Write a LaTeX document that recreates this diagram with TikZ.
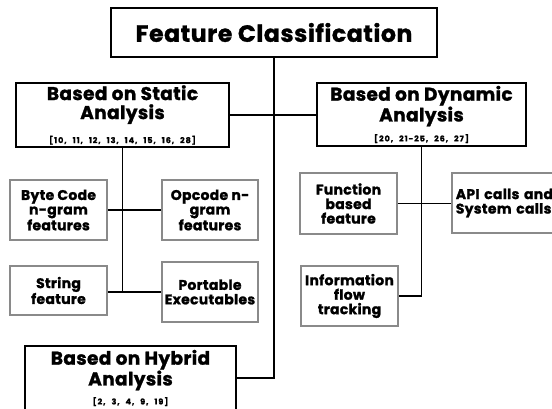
\documentclass[tikz,border=0pt]{standalone}
\usepackage{fontspec}
\setmainfont{Poppins}[BoldFeatures={FakeBold=1.3}]
\definecolor{boxgray}{HTML}{8A8A8A}
\tikzset{
  mainbox/.style={draw=black, line width=1.6pt, fill=white, align=center, inner sep=0pt, font=\bfseries},
  subbox/.style={draw=boxgray, line width=1.6pt, fill=white, align=center, inner sep=0pt,
    font=\bfseries\fontsize{14}{14.5}\selectfont\addfontfeature{LetterSpace=2}},
  conn/.style={line width=1.6pt, draw=black},
  ttl/.style={font=\bfseries\fontsize{18.5}{19}\selectfont\addfontfeature{LetterSpace=2}}
}
\newcommand{\citefont}{\fontsize{8}{9}\selectfont\addfontfeature{LetterSpace=12}\spaceskip=6pt plus 1pt\relax}
\begin{document}
\begin{tikzpicture}[x=1pt,y=-1pt]
\useasboundingbox (0,0) rectangle (552,409);
\fill[white] (0,0) rectangle (552,409);
\clip (0,0) rectangle (552,409);

\node[mainbox, minimum width=326pt, minimum height=49pt, font=\bfseries\fontsize{23.5}{24}\selectfont\addfontfeature{LetterSpace=2.5}] (top) at (274,32.5) {Feature Classification};

\node[mainbox, ttl, minimum width=213pt, minimum height=64pt] (static) at (122.5,115)
  {Based on Static\\Analysis\\[5pt]{\citefont [10, 11, 12, 13, 14, 15, 16, 28]}};
\node[mainbox, ttl, minimum width=209pt, minimum height=63pt] (dynamic) at (421.5,114.5)
  {Based on Dynamic\\Analysis\\[1pt]{\citefont [20, 21-25, 26, 27]}};
\node[mainbox, ttl, minimum width=211pt, minimum height=64pt] (hybrid) at (130.5,378)
  {Based on Hybrid\\Analysis\\[0pt]{\citefont [2, 3, 4, 9, 19]}};

\node[subbox, minimum width=97pt, minimum height=60pt] (byte) at (58.5,210) {Byte Code\\n-gram\\features};
\node[subbox, minimum width=96pt, minimum height=60pt] (opcode) at (210,210) {Opcode n-\\gram\\features};
\node[subbox, minimum width=97pt, minimum height=49pt] (string) at (58.5,290.5) {String\\feature};
\node[subbox, minimum width=96pt, minimum height=60pt] (portable) at (210,292) {Portable\\Executables};

\node[subbox, minimum width=97pt, minimum height=61pt] (function) at (348.5,203.5) {Function\\based\\feature};
\node[subbox, anchor=west, align=left, text width=100pt, inner xsep=4pt, minimum height=60pt] (api) at (451,203) {API calls and\\System calls};
\node[subbox, minimum width=97pt, minimum height=60pt] (info) at (349.5,296) {Information\\flow\\tracking};

\draw[conn] (top.south) -- (top.south |- hybrid.east) -- (hybrid.east);
\draw[conn] (static.east) -- (static.east -| dynamic.west);
\draw[conn] (static.south) -- (static.south |- portable.west);
\draw[conn] (byte.east) -- (opcode.west);
\draw[conn] (string.east |- portable.west) -- (portable.west);
\draw[conn] (dynamic.south) -- (dynamic.south |- info.east) -- (info.east);
\draw[conn] (function.east) -- (function.east -| api.west);
\end{tikzpicture}
\end{document}
